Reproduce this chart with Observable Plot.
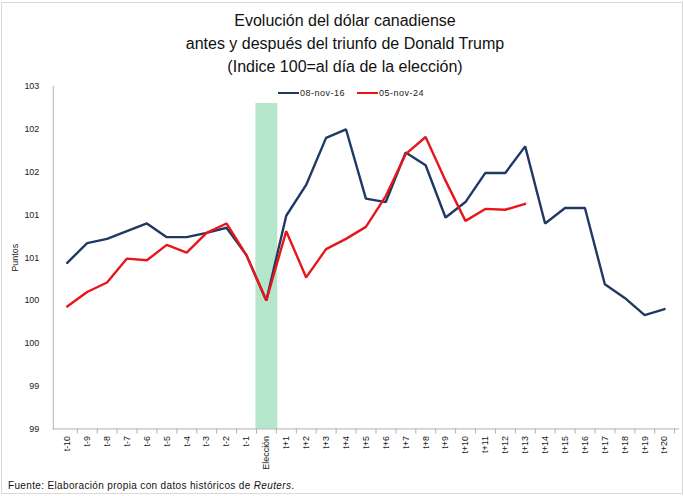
<!DOCTYPE html>
<html><head><meta charset="utf-8">
<script src="https://cdn.jsdelivr.net/npm/d3@7"></script>
<script src="https://cdn.jsdelivr.net/npm/@observablehq/plot@0.6"></script>
<style>
body{margin:0;background:#fff;}
#chart{position:relative;width:680px;height:490px;border:1px solid #d9d9d9;margin:2px 0 0 1px;font-family:"Liberation Sans",Arial,sans-serif;color:#222;}
#title{position:absolute;top:6px;left:0;width:100%;text-align:center;font-family:"Liberation Sans Narrow","Liberation Sans",Arial,sans-serif;font-size:16px;line-height:23px;color:#111;padding-left:6px;box-sizing:border-box;}
#plot{position:absolute;top:77px;left:-1px;}
#legend{position:absolute;top:85px;left:276px;font-size:9px;display:flex;align-items:center;gap:0;white-space:nowrap;}
#legend .sw{display:inline-block;width:21px;height:0;border-top:2.5px solid;margin-right:1px;}
#legend .it{display:flex;align-items:center;margin-right:12px;letter-spacing:0.5px;}
#caption{position:absolute;top:477px;left:6px;font-size:10px;letter-spacing:0.35px;color:#111;}
</style>
</head><body>
<div id="chart">
  <div id="title">Evolución del dólar canadiense<br>antes y después del triunfo de Donald Trump<br>(Indice 100=al día de la elección)</div>
  <div id="plot"></div>
  <div id="legend"></div>
  <div id="caption">Fuente: Elaboración propia con datos históricos de <i>Reuters</i>.</div>
</div>
<script>
const categories = ["t-10","t-9","t-8","t-7","t-6","t-5","t-4","t-3","t-2","t-1","Elección",
  "t+1","t+2","t+3","t+4","t+5","t+6","t+7","t+8","t+9","t+10","t+11","t+12","t+13","t+14",
  "t+15","t+16","t+17","t+18","t+19","t+20"];
const seriesNames = ["08-nov-16","05-nov-24"];
const seriesColors = ["#1f3864","#e8161b"];
const nov16 = [100.44,100.67,100.72,100.81,100.90,100.74,100.74,100.79,100.85,100.53,100.00,
  100.99,101.35,101.90,102.00,101.19,101.15,101.73,101.58,100.97,101.15,101.49,101.49,101.80,
  100.90,101.08,101.08,100.19,100.03,99.83,99.90];
const nov24 = [99.93,100.10,100.21,100.49,100.47,100.65,100.56,100.79,100.90,100.53,100.00,
  100.81,100.27,100.60,100.72,100.86,101.22,101.71,101.91,101.40,100.93,101.07,101.06,101.13];
const yTicks = [98.5,99,99.5,100,100.5,101,101.5,102,102.5];
const yDomain = [98.5,102.5];
const electionBand = [{category:"Elección", top:102.3}];

const rows = [];
categories.forEach((c,i)=>{ if(i<nov16.length) rows.push({x:c,y:nov16[i],s:seriesNames[0]}); });
categories.forEach((c,i)=>{ if(i<nov24.length) rows.push({x:c,y:nov24[i],s:seriesNames[1]}); });

const fmt = d => String(Math.round(d));
const plot = Plot.plot({
  width:684, height:400, marginTop:6, marginBottom:50, marginLeft:52, marginRight:4,
  style:{fontFamily:"'Liberation Sans',Arial,sans-serif", fontSize:"9px", color:"#222", background:"transparent"},
  x:{type:"point", domain:categories, padding:0.5, label:null},
  y:{domain:yDomain, label:null},
  color:{domain:seriesNames, range:seriesColors},
  marks:[
    Plot.ruleX(electionBand, {x:"category", y1:yDomain[0], y2:"top", stroke:"#b5e6cc", strokeWidth:22}),
    Plot.ruleX(categories, {x:d=>d, y1:yDomain[0], y2:yDomain[0]-0.06, dx:10.13, stroke:"#b0b0b0"}),
    Plot.axisX({tickSize:0, tickRotate:-90, tickPadding:7, fontSize:9}),
    Plot.axisY({ticks:yTicks, tickSize:0, tickPadding:14, tickFormat:fmt, label:"Puntos", labelAnchor:"center", labelArrow:false, labelOffset:42}),
    Plot.frame({anchor:"left", stroke:"#b0b0b0"}),
    Plot.frame({anchor:"bottom", stroke:"#b0b0b0"}),
    Plot.lineY(rows, {x:"x", y:"y", z:"s", stroke:"s", strokeWidth:2.4, strokeLinejoin:"miter"})
  ]
});
document.getElementById("plot").appendChild(plot);

const leg = document.getElementById("legend");
seriesNames.forEach((n,i)=>{
  const it = document.createElement("span"); it.className="it";
  const sw = document.createElement("span"); sw.className="sw"; sw.style.borderColor = seriesColors[i];
  it.appendChild(sw); it.appendChild(document.createTextNode(n));
  leg.appendChild(it);
});
</script>
</body></html>
